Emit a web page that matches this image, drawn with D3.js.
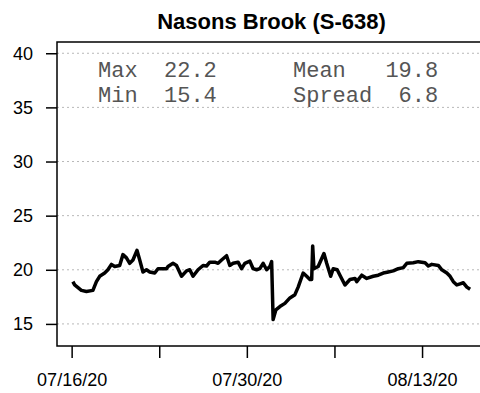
<!DOCTYPE html>
<html>
<head>
<meta charset="utf-8">
<script src="https://cdn.jsdelivr.net/npm/d3@7"></script>
<style>
  html, body { margin: 0; padding: 0; background: #fff; }
  svg { display: block; }
</style>
</head>
<body>
<svg width="480" height="393"></svg>
<script>
// water temperature
const startDate = new Date(2020, 6, 16);
// days since 07/16/20
const days = [
  0.10, 0.24, 0.78, 1.18, 1.70, 1.98, 2.24, 2.64, 2.90, 3.18, 3.44, 3.84,
  4.10, 4.38, 4.64, 4.90, 5.22, 5.44, 5.70, 5.98, 6.24, 6.64, 6.90, 7.58,
  7.70, 8.10, 8.38, 8.78, 9.18, 9.44, 9.70, 10.10, 10.50, 10.78, 11.04, 11.44,
  11.70, 11.98, 12.38, 12.64, 12.90, 13.30, 13.58, 13.84, 14.24, 14.50, 14.78, 15.04,
  15.30, 15.58, 15.84, 15.98, 16.10, 16.32, 16.64, 17.04, 17.44, 17.84, 18.10, 18.50,
  18.78, 19.04, 19.18, 19.26, 19.36, 19.70, 20.16, 20.38, 20.70, 20.90, 21.22, 21.44,
  21.84, 22.24, 22.64, 22.78, 23.18, 23.58, 24.10, 24.50, 24.90, 25.30, 25.70, 26.10,
  26.50, 26.78, 27.30, 27.70, 28.24, 28.50, 28.78, 29.30, 29.58, 29.98, 30.24, 30.50,
  30.78, 31.04, 31.30, 31.58, 31.84
];
const temps = [
  18.9, 18.6, 18.1, 18.0, 18.1, 18.9, 19.4, 19.7, 20.0, 20.5, 20.3, 20.4,
  21.4, 21.1, 20.6, 20.9, 21.8, 20.9, 19.8, 20.0, 19.8, 19.7, 20.1, 20.1,
  20.3, 20.6, 20.4, 19.4, 19.9, 20.0, 19.4, 20.0, 20.4, 20.35, 20.7, 20.7,
  20.6, 20.9, 21.3, 20.4, 20.6, 20.7, 20.1, 20.6, 20.8, 20.1, 20.0, 20.1,
  20.6, 20.0, 20.3, 20.75, 15.4, 16.3, 16.6, 16.9, 17.4, 17.7, 18.4, 19.7,
  19.4, 19.1, 19.1, 22.2, 20.1, 20.3, 21.5, 20.6, 19.4, 20.1, 20.0, 19.5,
  18.6, 19.1, 19.2, 18.9, 19.5, 19.2, 19.4, 19.5, 19.7, 19.8, 19.9, 20.1,
  20.2, 20.6, 20.65, 20.75, 20.65, 20.35, 20.5, 20.4, 20.0, 19.7, 19.4, 18.9,
  18.6, 18.7, 18.8, 18.4, 18.2
];

const yTicks = [15, 20, 25, 30, 35, 40];
const xTickDays = [0, 7, 14, 21, 28];
const xTickLabels = ['07/16/20', '', '07/30/20', '', '08/13/20'];

const statLeft = [['Max', '22.2'], ['Min', '15.4']];
const statRight = [['Mean', '19.8'], ['Spread', '6.8']];

const title = 'Nasons Brook (S-638)';

const dayMs = 864e5;
const toDate = d => new Date(startDate.getTime() + d * dayMs);

const data = days.map((d, i) => ({ date: toDate(d), value: temps[i] }));

const svg = d3.select('svg');
const box = { left: 57, top: 42, right: 486, bottom: 346 };

// R style 4% padding around the data
const dExt = d3.extent(days);
const dPad = (dExt[1] - dExt[0]) * 0.04;
const x = d3.scaleTime()
  .domain([toDate(dExt[0] - dPad), toDate(dExt[1] + dPad)])
  .range([box.left, box.right]);

const y = d3.scaleLinear()
  .domain([14 - 1.04, 40 + 1.04])
  .range([box.bottom, box.top]);

// grid
svg.append('g')
  .selectAll('line')
  .data(yTicks)
  .join('line')
    .attr('x1', box.left)
    .attr('x2', box.right)
    .attr('y1', d => y(d))
    .attr('y2', d => y(d))
    .attr('stroke', '#b8b8b8')
    .attr('stroke-width', 1)
    .attr('stroke-dasharray', '2,3');

// stats text
const mono = 'Liberation Mono, Courier New, monospace';
const stats = svg.append('g')
  .attr('font-family', mono)
  .attr('font-size', '22px')
  .attr('fill', '#555');

stats.selectAll('text.l')
  .data(statLeft)
  .join('text')
    .attr('class', 'l')
    .attr('x', 98)
    .attr('y', (d, i) => 77 + i * 25)
    .attr('xml:space', 'preserve')
    .text(d => d[0] + '  ' + d[1]);

stats.selectAll('text.r')
  .data(statRight)
  .join('text')
    .attr('class', 'r')
    .attr('x', 293)
    .attr('y', (d, i) => 77 + i * 25)
    .attr('xml:space', 'preserve')
    .text(d => d[0].padEnd(7, ' ') + d[1].padStart(4, ' '));

// the series
const line = d3.line()
  .x(d => x(d.date))
  .y(d => y(d.value));

svg.append('path')
  .datum(data)
  .attr('fill', 'none')
  .attr('stroke', '#000')
  .attr('stroke-width', 3.5)
  .attr('stroke-linejoin', 'round')
  .attr('d', line);

// box
svg.append('rect')
  .attr('x', box.left)
  .attr('y', box.top)
  .attr('width', box.right - box.left)
  .attr('height', box.bottom - box.top)
  .attr('fill', 'none')
  .attr('stroke', '#000')
  .attr('stroke-width', 1.5);

// y axis
const yAxis = svg.append('g')
  .attr('transform', `translate(${box.left},0)`)
  .call(d3.axisLeft(y).tickValues(yTicks).tickSize(11).tickPadding(13));
yAxis.select('.domain').remove();

// x axis
const xAxis = svg.append('g')
  .attr('transform', `translate(0,${box.bottom})`)
  .call(d3.axisBottom(x)
    .tickValues(xTickDays.map(toDate))
    .tickSize(12)
    .tickPadding(15)
    .tickFormat((d, i) => xTickLabels[i]));
xAxis.select('.domain').remove();

svg.selectAll('.tick line').attr('stroke', '#000').attr('stroke-width', 1.5);
svg.selectAll('.tick text')
  .attr('fill', '#000')
  .style('font-family', 'Liberation Sans, Arial, sans-serif')
  .style('font-size', '18px');

// title
svg.append('text')
  .attr('x', (box.left + box.right) / 2)
  .attr('y', 29)
  .attr('text-anchor', 'middle')
  .style('font-family', 'Liberation Sans, Arial, sans-serif')
  .style('font-weight', 'bold')
  .style('font-size', '22px')
  .text(title);
</script>
</body>
</html>
